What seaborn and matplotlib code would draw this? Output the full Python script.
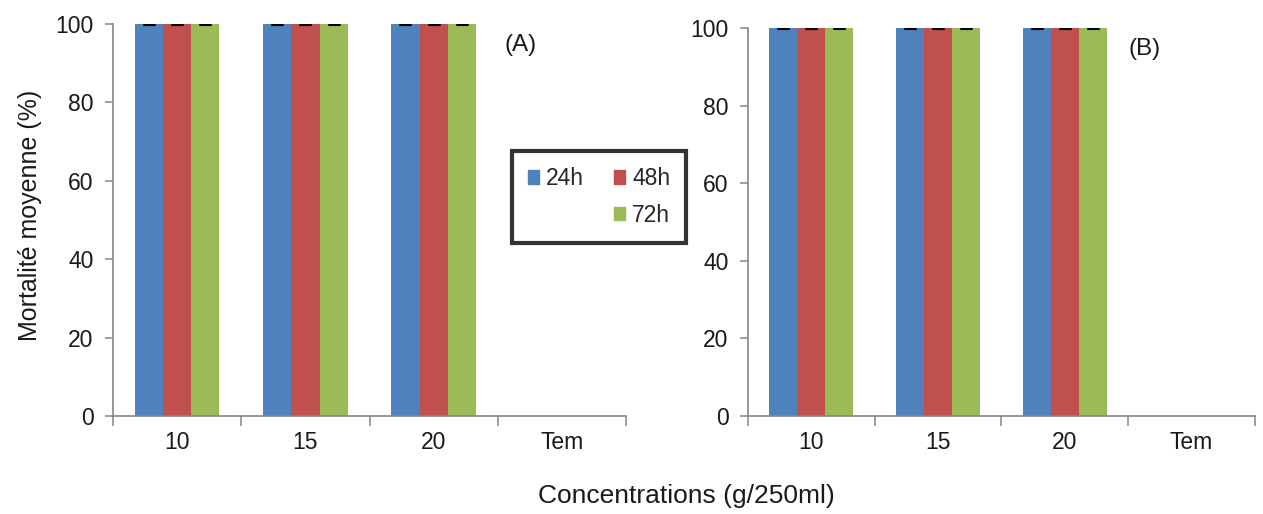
import matplotlib
matplotlib.use("Agg")
import matplotlib.pyplot as plt
from matplotlib.patches import Patch
from matplotlib.ticker import FixedLocator
import numpy as np
import pandas as pd
import seaborn as sns

# Mean mortality (%) per concentration and exposure time
concentrations = ["10", "15", "20", "Tem"]
durations = ["24h", "48h", "72h"]
mort_a_24h = [100, 100, 100, 0]
mort_a_48h = [100, 100, 100, 0]
mort_a_72h = [100, 100, 100, 0]
mort_b_24h = [100, 100, 100, 0]
mort_b_48h = [100, 100, 100, 0]
mort_b_72h = [100, 100, 100, 0]
y_ticks = [0, 20, 40, 60, 80, 100]

colors = ["#4F81BD", "#C0504D", "#9BBB59"]
spine_grey = "#868686"
text_col = "#1a1a1a"
fs = 16.5

sns.set_theme(style="white")
plt.rcParams["font.family"] = ["Liberation Sans", "DejaVu Sans"]


def long_table(s24, s48, s72):
    rows = []
    for dur, vals in zip(durations, [s24, s48, s72]):
        for c, v in zip(concentrations, vals):
            rows.append({"conc": c, "duree": dur, "mort": v})
    return pd.DataFrame(rows)


fig = plt.figure(figsize=(12.63, 5.14), dpi=100)
ax_a = fig.add_axes([0.0895, 0.1907, 0.4062, 0.7626])
ax_b = fig.add_axes([0.5922, 0.1907, 0.4014, 0.7549])

panels = [
    (ax_a, long_table(mort_a_24h, mort_a_48h, mort_a_72h), "(A)", 0.795),
    (ax_b, long_table(mort_b_24h, mort_b_48h, mort_b_72h), "(B)", 0.783),
]

for ax, df, tag, tag_x in panels:
    sns.barplot(data=df, x="conc", y="mort", hue="duree", order=concentrations,
                hue_order=durations, palette=colors, width=0.66, gap=0,
                errorbar=None, saturation=1, linewidth=0, legend=False, ax=ax)
    # zero-length error bars drawn as caps on top of the non-zero bars
    for p in ax.patches:
        h = p.get_height()
        if h > 0:
            xc = p.get_x() + p.get_width() / 2
            ax.errorbar(xc, h, yerr=0, fmt="none", ecolor="black",
                        elinewidth=1.2, capsize=4, capthick=2.2, zorder=5)
    ax.set_xlim(-0.5, 3.5)
    ax.set_ylim(0, 100)
    ax.set_yticks(y_ticks)
    ax.set_xlabel("")
    ax.set_ylabel("")
    for side in ["top", "right"]:
        ax.spines[side].set_visible(False)
    for side in ["left", "bottom"]:
        ax.spines[side].set_color(spine_grey)
        ax.spines[side].set_linewidth(1.2)
    ax.xaxis.set_minor_locator(FixedLocator([-0.5, 0.5, 1.5, 2.5, 3.5]))
    ax.tick_params(axis="x", which="major", length=0, pad=11,
                   labelsize=fs, labelcolor=text_col)
    ax.tick_params(axis="x", which="minor", bottom=True, length=7,
                   direction="out", color=spine_grey, width=1.1)
    ax.tick_params(axis="y", left=True, length=6, direction="out",
                   color=spine_grey, width=1.1, pad=8, labelsize=fs,
                   labelcolor=text_col)
    ax.text(tag_x, 0.946, tag, transform=ax.transAxes,
            fontsize=17.5, ha="center", va="center", color=text_col)

fig.text(30 / 1263, 1 - 215 / 514, "Mortalité moyenne (%)", fontsize=18,
         rotation=90, ha="center", va="center", color=text_col)
fig.text(686 / 1263, 1 - 496 / 514, "Concentrations (g/250ml)", fontsize=19,
         ha="center", va="center", color=text_col)

handles = [Patch(color=colors[0], label="24h"),
           Patch(color="none", label=""),
           Patch(color=colors[1], label="48h"),
           Patch(color=colors[2], label="72h")]
leg = fig.legend(handles=handles, ncol=2, loc="center",
                 bbox_to_anchor=(599 / 1263, 1 - 197 / 514),
                 fontsize=fs, frameon=True, fancybox=False,
                 handlelength=0.5, handleheight=0.5, handletextpad=0.3,
                 columnspacing=1.3, labelspacing=0.6, borderpad=0.7)
leg.get_frame().set_edgecolor("black")
leg.get_frame().set_linewidth(3)

fig.savefig("out.png", dpi=100, facecolor="white")
